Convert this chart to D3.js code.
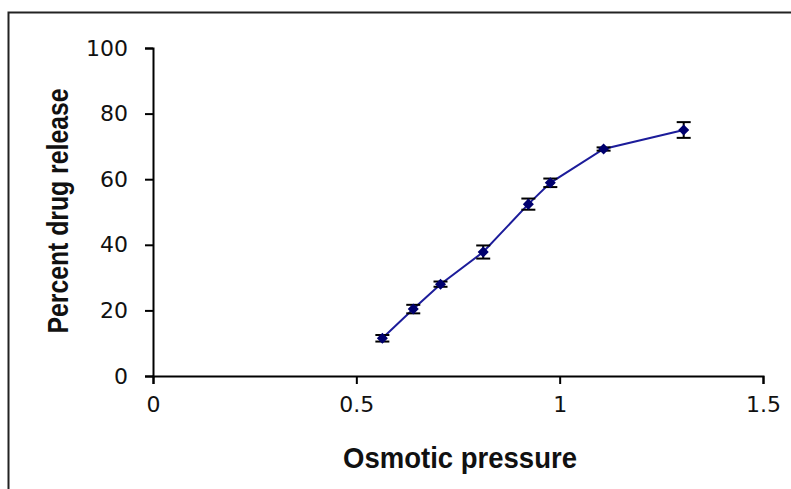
<!DOCTYPE html>
<html>
<head>
<meta charset="utf-8">
<script src="https://cdn.jsdelivr.net/npm/d3@7"></script>
<style>
  body { margin: 0; background: #fff; }
  svg { display: block; }
</style>
</head>
<body>
<div id="chart"></div>
<script>
// values
var pressure = [0.564, 0.640, 0.707, 0.812, 0.923, 0.977, 1.108, 1.305];
var release = [11.5, 20.4, 28.0, 37.8, 52.4, 58.9, 69.2, 75.0];
var errs = [1.0, 1.3, 0.8, 2.0, 1.7, 1.3, 0.5, 2.4];
var xTicks = [0, 0.5, 1, 1.5];
var yTicks = [0, 20, 40, 60, 80, 100];

var w = 791, h = 489;
var svg = d3.select('#chart').append('svg')
    .attr('width', w)
    .attr('height', h);

// outer frame (runs off the right and bottom edges)
svg.append('rect')
    .attr('x', 8.5).attr('y', 12.5)
    .attr('width', 800).attr('height', 500)
    .attr('fill', 'none')
    .attr('stroke', '#222')
    .attr('stroke-width', 2);

var x = d3.scaleLinear().domain([0, 1.5]).range([153, 763]);
var y = d3.scaleLinear().domain([0, 100]).range([376, 48]);

var tickFont = '"DejaVu Sans", sans-serif';

var xAxis = svg.append('g')
    .attr('transform', 'translate(0,376)')
    .call(d3.axisBottom(x).tickValues(xTicks).tickSize(8).tickSizeOuter(8).tickPadding(12)
        .tickFormat(d3.format('')));
var yAxis = svg.append('g')
    .attr('transform', 'translate(153,0)')
    .call(d3.axisLeft(y).tickValues(yTicks).tickSize(8).tickSizeOuter(8).tickPadding(17));

[xAxis, yAxis].forEach(function (g) {
    g.select('.domain').attr('stroke', '#000').attr('stroke-width', 2);
    g.selectAll('.tick line').attr('stroke', '#000').attr('stroke-width', 2);
    g.selectAll('.tick text')
        .attr('fill', '#111')
        .style('font-family', tickFont)
        .style('font-size', '22px');
});

var pts = d3.range(pressure.length).map(function (i) {
    return {x: pressure[i], y: release[i], e: errs[i]};
});

// connecting line
svg.append('path')
    .datum(pts)
    .attr('fill', 'none')
    .attr('stroke', '#1c1c9a')
    .attr('stroke-width', 2)
    .attr('d', d3.line()
        .x(function (d) { return x(d.x); })
        .y(function (d) { return y(d.y); }));

// error bars
var eb = svg.append('g').selectAll('g.err')
    .data(pts)
    .enter()
    .append('g')
    .attr('class', 'err')
    .attr('stroke', '#000')
    .attr('stroke-width', 2);

eb.append('line')
    .attr('x1', function (d) { return x(d.x); })
    .attr('x2', function (d) { return x(d.x); })
    .attr('y1', function (d) { return y(d.y + d.e); })
    .attr('y2', function (d) { return y(d.y - d.e); });
eb.append('line')
    .attr('x1', function (d) { return x(d.x) - 7; })
    .attr('x2', function (d) { return x(d.x) + 7; })
    .attr('y1', function (d) { return y(d.y + d.e); })
    .attr('y2', function (d) { return y(d.y + d.e); });
eb.append('line')
    .attr('x1', function (d) { return x(d.x) - 7; })
    .attr('x2', function (d) { return x(d.x) + 7; })
    .attr('y1', function (d) { return y(d.y - d.e); })
    .attr('y2', function (d) { return y(d.y - d.e); });

// diamond markers (square turned 45 degrees)
svg.append('g').selectAll('path.mark')
    .data(pts)
    .enter()
    .append('path')
    .attr('class', 'mark')
    .attr('d', d3.symbol().type(d3.symbolSquare).size(40))
    .attr('transform', function (d) {
        return 'translate(' + x(d.x) + ',' + y(d.y) + ') rotate(45)';
    })
    .attr('fill', '#00006e')
    .attr('stroke', '#00006e')
    .attr('stroke-width', 1.5);

// axis titles
svg.append('text')
    .attr('x', 460)
    .attr('y', 468)
    .attr('text-anchor', 'middle')
    .attr('textLength', 234)
    .attr('lengthAdjust', 'spacingAndGlyphs')
    .style('font-family', '"Liberation Sans", Arial, sans-serif')
    .style('font-weight', 'bold')
    .style('font-size', '30px')
    .attr('fill', '#111')
    .text('Osmotic pressure');

svg.append('text')
    .attr('transform', 'translate(68,211) rotate(-90)')
    .attr('text-anchor', 'middle')
    .attr('textLength', 245)
    .attr('lengthAdjust', 'spacingAndGlyphs')
    .style('font-family', '"Liberation Sans", Arial, sans-serif')
    .style('font-weight', 'bold')
    .style('font-size', '30px')
    .attr('fill', '#111')
    .text('Percent drug release');
</script>
</body>
</html>
